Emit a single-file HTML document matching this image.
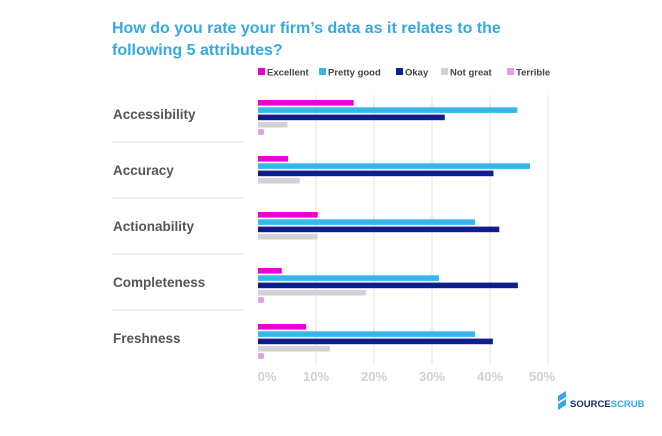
<!DOCTYPE html>
<html><head><meta charset="utf-8"><style>
body{margin:0;background:#fff;width:662px;height:431px;overflow:hidden;font-family:"Liberation Sans",sans-serif}
</style></head><body>
<svg width="662" height="431" viewBox="0 0 662 431">
<text x="112" y="33" font-size="16" font-weight="bold" fill="#36a9e1">How do you rate your firm’s data as it relates to the</text>
<text x="112" y="55" font-size="16" font-weight="bold" fill="#36a9e1">following 5 attributes?</text>
<g id="legend"></g>
<g id="grid"></g><g id="seps"></g><g id="bars"></g><g id="labels"></g><g id="ticks"></g>
<g>
<path d="M558 396 l8 -5 l0 6 l-8 5z M558 404 l8 -5 l0 6 l-8 5z" fill="#36a9e1"/>
<text x="570" y="407" font-size="9.5" font-weight="bold" fill="#1a2a6c">SOURCE<tspan fill="#36a9e1">SCRUB</tspan></text>
</g>
</svg>
<script>
const categories=["Accessibility","Accuracy","Actionability","Completeness","Freshness"];
const seriesNames=["Excellent","Pretty good","Okay","Not great","Terrible"];
const excellent=[16.5,5.2,10.3,4.1,8.3];
const prettyGood=[44.7,46.9,37.4,31.2,37.4];
const okay=[32.2,40.6,41.6,44.8,40.5];
const notGreat=[5.1,7.2,10.3,18.6,12.4];
const terrible=[1,0,0,1,1];
const tickLabels=["0%","10%","20%","30%","40%","50%"];
const tickValues=[0,10,20,30,40,50];
const colors=["#e600d2","#36b7e8","#0f1f8a","#d3d3d3","#e59ee0"];
const NS="http://www.w3.org/2000/svg";
const x=v=>258+v*5.8;
const gy=i=>100+i*56;
function el(t,a,p){const e=document.createElementNS(NS,t);for(const k in a)e.setAttribute(k,a[k]);document.getElementById(p).appendChild(e);return e;}
tickValues.forEach((v,i)=>{
 if(v>0){const l=el("line",{x1:x(v),x2:x(v),y1:95,y2:365,stroke:"#e3e3e3","stroke-width":1},"grid");
 
 }
 const t=el("text",{x:x(v)+(i==0?9:i==5?-6:0),y:381,"font-size":13,"font-weight":"bold",fill:"#d0d0d0","text-anchor":"middle"},"ticks");
 t.textContent=tickLabels[i];
 
 
});
const series=[excellent,prettyGood,okay,notGreat,terrible];
categories.forEach((c,i)=>{
 const t=el("text",{x:113,y:gy(i)+19,"font-size":13.5,"font-weight":"bold",fill:"#555"},"labels");
 t.textContent=c;
 
 
 if(i>0){const s=el("line",{x1:112,x2:244,y1:gy(i)-14,y2:gy(i)-14,stroke:"#e3e3e3"},"seps");
 
 }
 series.forEach((s,j)=>{
  if(s[i]<=0)return;
  const r=el("rect",{x:x(0),y:gy(i)+j*7.3,width:x(s[i])-x(0),height:5.6,fill:colors[j]},"bars");
  
  
 });
});
const lx=[258,319,396,441,507];
seriesNames.forEach((n,j)=>{
 const r=el("rect",{x:lx[j],y:68,width:7,height:7,fill:colors[j]},"legend");
 
 
 const t=el("text",{x:lx[j]+9,y:75.5,"font-size":9.5,"font-weight":"bold",fill:"#444"},"legend");
 t.textContent=n;
 
 
});
</script>
</body></html>
